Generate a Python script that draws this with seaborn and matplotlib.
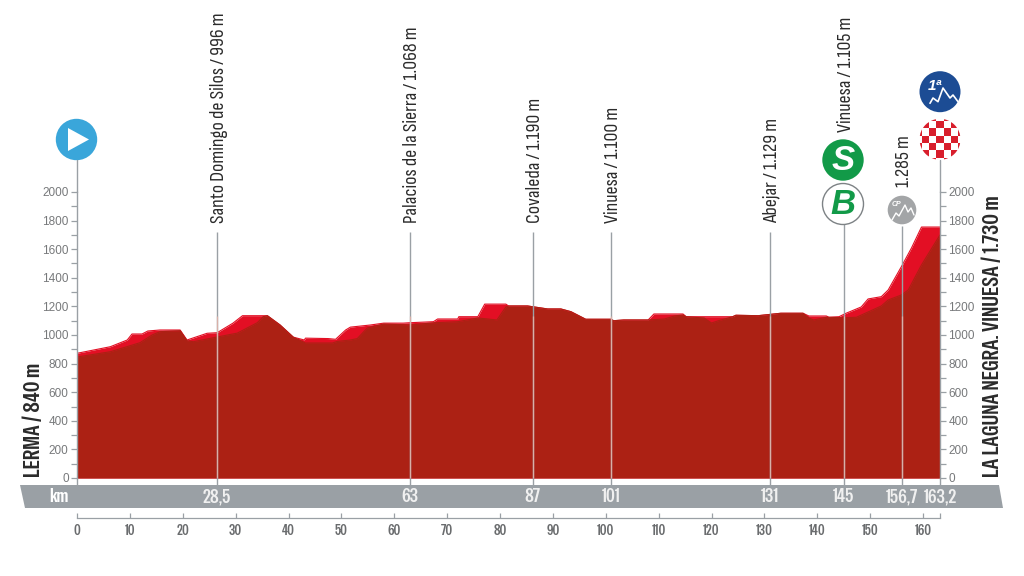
import matplotlib
matplotlib.use("Agg")
import matplotlib.pyplot as plt
from matplotlib import font_manager as fm
from matplotlib.patches import Circle, Polygon, Rectangle
import pandas as pd
import seaborn as sns

# back profile (bright red)
back_km = [0, 6.3, 9.5, 10.4, 12.3, 13.4, 15.7, 19.5, 20.8, 24.6, 26.5, 29.5, 31.3, 36, 38.4, 40.9, 43, 43.2,
           47.5, 48.9, 50.8, 51.7, 55.5, 58, 61.7, 63, 67.4, 68.2, 72, 72.2, 75.8, 77.1, 81.1, 81.6, 85.2,
           89, 91.5, 93.4, 96.2, 100.9, 101.5, 103.4, 108, 109.1, 114.6, 115.2, 118.6, 124, 124.6, 128.8,
           133.1, 137.3, 138.4, 141.7, 142.2, 144.1, 145.5, 148.3, 149.6, 152.1, 153.4, 155.9, 157.8, 159.7, 163.2]
back_m = [872, 918, 965, 1007, 1007, 1028, 1035, 1035, 965, 1012, 1016, 1083, 1135, 1135, 1070, 985, 965, 978,
          975, 970, 1035, 1055, 1070, 1083, 1083, 1086, 1093, 1112, 1112, 1128, 1128, 1216, 1216, 1203, 1203,
          1182, 1182, 1163, 1110, 1110, 1100, 1105, 1105, 1147, 1147, 1128, 1128, 1128, 1138, 1135,
          1152, 1152, 1133, 1133, 1124, 1128, 1153, 1196, 1252, 1268, 1315, 1478, 1608, 1755, 1755]

# front profile (dark red)
front_km = [0, 6.3, 11.9, 14.2, 15.7, 19.5, 20.8, 22, 26.5, 30.3, 34.1, 35.2, 36, 38.4, 40.9, 43.2, 48.3, 49.2,
            51.7, 53, 54.9, 58, 63, 67.4, 72, 75.8, 77.7, 79.4, 81.1, 81.6, 85.2, 89, 91.5, 93.4, 96.2, 100.9,
            101.5, 103.4, 108, 111.1, 113, 114.6, 115.2, 118.6, 120, 121.3, 124, 124.6, 128.8, 133.1, 137.3,
            138.4, 139.3, 141.7, 145.5, 147.4, 152.1, 153.4, 155.9, 157.2, 159.7, 163.2]
front_m = [846, 883, 946, 1000, 1023, 1030, 960, 953, 986, 1013, 1086, 1128, 1135, 1070, 985, 944, 944, 955,
           965, 975, 1049, 1077, 1070, 1085, 1093, 1119, 1112, 1105, 1196, 1203, 1203, 1182, 1182, 1163, 1110, 1110,
           1100, 1105, 1105, 1112, 1133, 1140, 1128, 1119, 1084, 1100, 1128, 1138, 1135, 1152, 1152,
           1119, 1105, 1124, 1121, 1124, 1203, 1245, 1280, 1315, 1490, 1700]

marker_km = [26.5, 63, 86.2, 101, 131, 145, 156, 163.2]
marker_top = [1720, 1720, 1720, 1720, 1720, 1910, 1760, 2130]
marker_names = ["Santo Domingo de Silos / 996 m", "Palacios de la Sierra / 1.068 m", "Covaleda / 1.190 m",
                "Vinuesa / 1.100 m", "Abejar / 1.129 m", "Vinuesa / 1.105 m", "1.285 m", ""]
name_bottom = [223, 223, 223, 223, 223, 132, 187, 0]
km_labels = ["28,5", "63", "87", "101", "131", "145", "156,7", "163,2"]

elev_ticks = list(range(0, 2001, 200))
elev_minor = list(range(100, 2000, 200))
km_ticks = list(range(0, 161, 10))

GREY = "#9aa0a5"
TXT = "#77797b"


def pick(family, size, backup, backup_size, weight="normal"):
    # condensed faces are not always there, fall back on Liberation with a smaller size
    try:
        fm.findfont(family, fallback_to_default=False)
        return {"family": family, "fontsize": size}
    except ValueError:
        return {"family": backup, "fontsize": backup_size, "fontweight": weight}


NARROW = pick("Sofia Sans Condensed", 14.4, "Liberation Sans", 10.5)
HEAVY = pick("Special Gothic Condensed One", 16.8, "Liberation Sans", 10.5, "bold")
HEAVY_SMALL = pick("Special Gothic Condensed One", 10.5, "Liberation Sans", 8, "bold")
BAND = pick("Special Gothic Condensed One", 14, "Liberation Sans", 9.5, "bold")

sns.set_theme(style="white")
plt.rcParams["font.family"] = ["Liberation Sans", "DejaVu Sans"]

fig = plt.figure(figsize=(10.24, 5.76), dpi=100)
ax = fig.add_axes([77 / 1024, 98 / 576, 863 / 1024, 286 / 576])

back = pd.DataFrame({"km": back_km, "m": back_m})
front = pd.DataFrame({"km": front_km, "m": front_m})
ax.fill_between(back["km"], 0, back["m"], color="#e30f24", lw=0)
sns.lineplot(data=back, x="km", y="m", ax=ax, color="#e30f24", lw=0.8, estimator=None, sort=False)
ax.fill_between(front["km"], 0, front["m"], color="#ac2114", lw=0)
sns.lineplot(data=front, x="km", y="m", ax=ax, color="#ac2114", lw=0.8, estimator=None, sort=False)

ax.vlines(marker_km[:-1], 0, marker_top[:-1], color=GREY, lw=1, clip_on=False)
ax.vlines(marker_km[:-1], 0, [1130] * 7, color="#d8b0a8", lw=0.9, zorder=3)

ax.set_xlim(0, 163.2)
ax.set_ylim(0, 2000)
ax.set_xlabel("")
ax.set_ylabel("")
ax.set_yticks(elev_ticks)
ax.set_yticks(elev_minor, minor=True)
ax.tick_params(axis="y", which="both", left=True, right=True, labelleft=True, labelright=True,
               length=4, width=0.9, color=GREY, labelsize=8.5, labelcolor=TXT, pad=2)

ax.spines["top"].set_visible(False)
ax.spines["bottom"].set_position(("outward", 28.8))
ax.spines["bottom"].set_color(GREY)
ax.spines["bottom"].set_linewidth(0.9)
ax.spines["left"].set_color(GREY)
ax.spines["right"].set_color(GREY)
ax.spines["left"].set_linewidth(1)
ax.spines["right"].set_linewidth(1)

# set_position resets the ticks, so the km axis is styled after it
ax.tick_params(axis="x", bottom=True, direction="in", length=3.5, width=0.9, color=GREY, pad=4)
ax.set_xticks(km_ticks + [163.2], [str(k) for k in km_ticks] + [""], color="#6a6c6e", **HEAVY_SMALL)

# overlay in pixel coordinates for the km band, icons and labels
ov = fig.add_axes([0, 0, 1, 1], facecolor="none")
ov.set_xlim(0, 1024)
ov.set_ylim(576, 0)
ov.axis("off")


def px(km):
    return 77 + km * 863 / 163.2


ov.add_patch(Polygon([(20, 485), (999, 485), (1003, 508), (25, 508)], color=GREY, lw=0))
ov.text(59, 497, "km", color="white", ha="center", va="center", **BAND)
for km, lab in zip(marker_km, km_labels):
    ov.plot([px(km), px(km)], [478, 485], color=GREY, lw=1)
    ov.text(px(km), 497, lab, color="#f0f0f0", ha="center", va="center", **BAND)

ov.plot([77, 77], [478, 485], color=GREY, lw=1)
ov.plot([77, 77], [160, 192], color=GREY, lw=1)
ov.plot([940, 940], [160, 192], color=GREY, lw=1)

for km, name, bottom in zip(marker_km, marker_names, name_bottom):
    if name:
        ov.text(px(km) + 2, bottom, name, rotation=90, ha="center", va="bottom", color="#2b2b2b", **NARROW)

ov.text(34, 477, "LERMA / 840 m", rotation=90, ha="center", va="bottom", color="#2b2b2b", **HEAVY)
ov.text(993, 477, "LA LAGUNA NEGRA. VINUESA / 1.730 m", rotation=90, ha="center", va="bottom",
        color="#2b2b2b", **HEAVY)

# start icon
ov.add_patch(Circle((76.5, 139.5), 20.7, color="#3aa6da", lw=0))
ov.add_patch(Polygon([(68, 128), (68, 151), (89, 139.5)], color="white", lw=0))

# sprint and bonus icons
ov.add_patch(Circle((843, 160), 20.7, color="#129a48", lw=0))
ov.text(843, 160, "S", color="white", fontsize=25, fontweight="bold", style="italic", ha="center", va="center")
ov.add_patch(Circle((843, 204), 20.5, fc="white", ec="#7d8285", lw=1))
ov.text(843, 204, "B", color="#129a48", fontsize=25, fontweight="bold", style="italic", ha="center", va="center")

# third-tier climb icon
ov.add_patch(Circle((902, 210), 14.3, color="#a3a5a7", lw=0))
ov.plot([892, 896, 899, 905, 908, 911, 914], [220, 213, 216, 205, 212, 208, 215], color="white", lw=1)
ov.text(896, 205, "CP", color="white", fontsize=5, fontweight="bold", style="italic", ha="center", va="center")

# first-category climb icon
ov.add_patch(Circle((940, 91.7), 20.5, color="#1c4c94", lw=0))
ov.plot([930, 933, 938, 943, 950, 953, 958], [103.3, 98, 101.7, 88, 98, 95, 101.7], color="white", lw=1.2)
ov.text(935, 86, "1ª", color="white", fontsize=11, fontweight="bold", style="italic", ha="center", va="center")

# finish icon, checkerboard clipped to a circle
disc = Circle((940, 139.3), 20.5, fc="white", ec="none")
ov.add_patch(disc)
cell = 7.3
for i in range(-4, 4):
    for j in range(-4, 4):
        if (i + j) % 2 == 0:
            square = Rectangle((940 + i * cell - cell / 2, 139.3 + j * cell - cell / 2), cell, cell,
                               color="#d81e2c", lw=0)
            ov.add_patch(square)
            square.set_clip_path(disc)

fig.savefig("out.png", dpi=100, facecolor="white")
